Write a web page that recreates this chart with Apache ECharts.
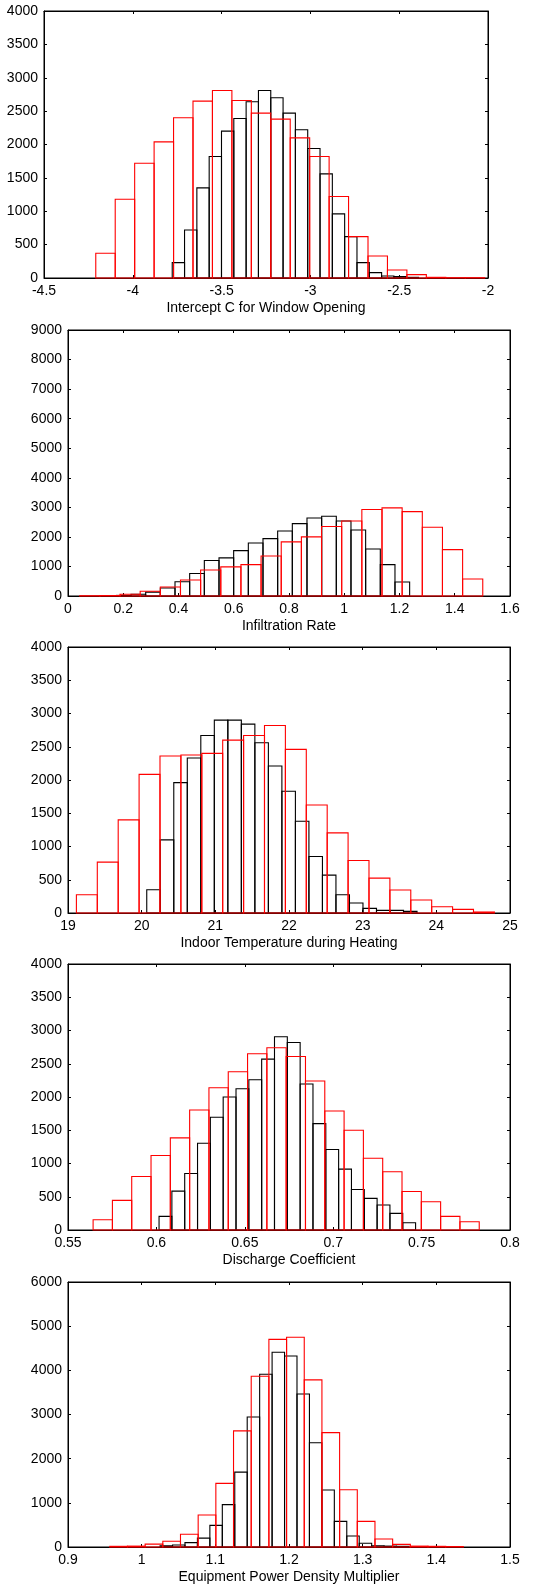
<!DOCTYPE html>
<html>
<head>
<meta charset="utf-8">
<script src="https://cdn.jsdelivr.net/npm/echarts@6/dist/echarts.min.js"></script>
<style>
html,body{margin:0;padding:0;background:#fff;}
#chart{width:546px;height:1591px;}
</style>
</head>
<body>
<div id="chart"></div>
<script>
// ---- Panel titles (x-axis names) ----
const titles = [
  'Intercept C for Window Opening',
  'Infiltration Rate',
  'Indoor Temperature during Heating',
  'Discharge Coefficient',
  'Equipment Power Density Multiplier'
];

// ---- Axis ranges ----
const xMins = [-4.5, 0, 19, 0.55, 0.9];
const xMaxs = [-2, 1.6, 25, 0.8, 1.5];
const xSteps = [0.5, 0.2, 1, 0.05, 0.1];
const yMaxs = [4000, 9000, 4000, 4000, 6000];
const ySteps = [500, 1000, 500, 500, 1000];

// ---- Histogram bin ranges [first edge, last edge] (20 equal bins) ----
const blackRange1 = [-3.778, -2.391];
const redRange1 = [-4.2085, -2.0187];
const blackRange2 = [0.175, 1.2367];
const redRange2 = [0.0424, 1.5014];
const blackRange3 = [20.069, 23.738];
const redRange3 = [19.114, 24.788];
const blackRange4 = [0.6015, 0.7466];
const redRange4 = [0.5642, 0.7826];
const blackRange5 = [1.025, 1.3629];
const redRange5 = [0.9567, 1.4367];

// ---- Histogram counts ----
const blackCounts1 = [230, 720, 1350, 1820, 2200, 2390, 2640, 2810, 2700, 2470, 2220, 1940, 1560, 960, 620, 230, 80, 30, 20, 10];
const redCounts1 = [370, 1180, 1720, 2040, 2400, 2650, 2810, 2660, 2470, 2380, 2100, 1820, 1220, 620, 330, 120, 50, 10, 5, 5];
const blackCounts2 = [20, 60, 130, 270, 480, 760, 1200, 1290, 1535, 1795, 1940, 2200, 2450, 2640, 2700, 2540, 2235, 1590, 1060, 475];
const redCounts2 = [10, 15, 60, 160, 305, 540, 880, 985, 1060, 1355, 1830, 2000, 2350, 2540, 2925, 2980, 2855, 2325, 1570, 575];
const blackCounts3 = [350, 1100, 1960, 2330, 2670, 2900, 2900, 2840, 2560, 2210, 1830, 1380, 850, 570, 275, 150, 70, 40, 40, 25];
const redCounts3 = [275, 765, 1400, 2085, 2360, 2375, 2400, 2600, 2670, 2820, 2460, 1625, 1205, 790, 525, 345, 195, 95, 55, 15];
const blackCounts4 = [205, 585, 850, 1305, 1695, 2000, 2125, 2260, 2570, 2905, 2820, 2195, 1600, 1210, 915, 610, 475, 375, 250, 110];
const redCounts4 = [155, 445, 805, 1120, 1385, 1805, 2140, 2380, 2650, 2740, 2610, 2240, 1790, 1500, 1080, 875, 580, 425, 205, 125];
const blackCounts5 = [25, 45, 100, 200, 490, 960, 1695, 2945, 3910, 4410, 4325, 3465, 2360, 1290, 580, 250, 85, 30, 20, 15];
const redCounts5 = [15, 20, 65, 130, 290, 725, 1440, 2630, 3865, 4700, 4750, 3785, 2590, 1295, 580, 180, 60, 20, 15, 10];

const blackRanges = [blackRange1, blackRange2, blackRange3, blackRange4, blackRange5];
const redRanges = [redRange1, redRange2, redRange3, redRange4, redRange5];
const blackCounts = [blackCounts1, blackCounts2, blackCounts3, blackCounts4, blackCounts5];
const redCounts = [redCounts1, redCounts2, redCounts3, redCounts4, redCounts5];

// ---- Layout ----
const grids = [
  {left: 44, top: 11, width: 444, height: 267},
  {left: 68, top: 330, width: 442, height: 266},
  {left: 68, top: 647, width: 442, height: 266},
  {left: 68, top: 964, width: 442, height: 266},
  {left: 68, top: 1282, width: 442, height: 265}
];

const FONT = '"Liberation Sans", Arial, sans-serif';
const FS = 14;

function binData(range, counts) {
  const n = counts.length;
  const w = (range[1] - range[0]) / n;
  return counts.map((c, i) => [range[0] + i * w, range[0] + (i + 1) * w, c]);
}

function makeRender(color) {
  return function (params, api) {
    const x0 = api.value(0), x1 = api.value(1), h = api.value(2);
    const p0 = api.coord([x0, h]);
    const p1 = api.coord([x1, 0]);
    return {
      type: 'rect',
      shape: {x: p0[0], y: p0[1], width: p1[0] - p0[0], height: p1[1] - p0[1]},
      style: {fill: 'none', stroke: color, lineWidth: 1.1}
    };
  };
}

function plain(v) { return String(Math.round(v * 1e6) / 1e6); }

const option = {
  animation: false,
  backgroundColor: '#fff',
  grid: [],
  xAxis: [],
  yAxis: [],
  series: []
};

for (let i = 0; i < 5; i++) {
  option.grid.push(Object.assign({show: true, borderColor: '#000', borderWidth: 1, backgroundColor: 'transparent'}, grids[i]));
  const tick = {show: true, inside: true, length: 3, lineStyle: {color: '#000', width: 1}};
  option.xAxis.push({
    type: 'value', gridIndex: i, position: 'bottom',
    min: xMins[i], max: xMaxs[i], interval: xSteps[i],
    name: titles[i], nameLocation: 'middle', nameGap: 23,
    nameTextStyle: {fontFamily: FONT, fontSize: FS, color: '#000'},
    axisLine: {show: true, onZero: false, lineStyle: {color: '#000', width: 1}},
    axisTick: tick,
    axisLabel: {fontFamily: FONT, fontSize: FS, color: '#000', margin: 6, formatter: plain},
    splitLine: {show: false}
  });
  option.xAxis.push({
    type: 'value', gridIndex: i, position: 'top',
    min: xMins[i], max: xMaxs[i], interval: xSteps[i],
    axisLine: {show: true, onZero: false, lineStyle: {color: '#000', width: 1}},
    axisTick: tick,
    axisLabel: {show: false},
    splitLine: {show: false}
  });
  option.yAxis.push({
    type: 'value', gridIndex: i, position: 'left',
    min: 0, max: yMaxs[i], interval: ySteps[i],
    axisLine: {show: true, onZero: false, lineStyle: {color: '#000', width: 1}},
    axisTick: tick,
    axisLabel: {fontFamily: FONT, fontSize: FS, color: '#000', margin: 6, formatter: plain},
    splitLine: {show: false}
  });
  option.yAxis.push({
    type: 'value', gridIndex: i, position: 'right',
    min: 0, max: yMaxs[i], interval: ySteps[i],
    axisLine: {show: true, onZero: false, lineStyle: {color: '#000', width: 1}},
    axisTick: tick,
    axisLabel: {show: false},
    splitLine: {show: false}
  });
  option.series.push({
    type: 'custom', xAxisIndex: 2 * i, yAxisIndex: 2 * i,
    renderItem: makeRender('#000000'),
    encode: {x: [0, 1], y: 2},
    data: binData(blackRanges[i], blackCounts[i]),
    z: 2
  });
  option.series.push({
    type: 'custom', xAxisIndex: 2 * i, yAxisIndex: 2 * i,
    renderItem: makeRender('#ff0000'),
    encode: {x: [0, 1], y: 2},
    data: binData(redRanges[i], redCounts[i]),
    z: 3
  });
}

const chart = echarts.init(document.getElementById('chart'), null, {renderer: 'canvas'});
chart.setOption(option);
</script>
</body>
</html>
